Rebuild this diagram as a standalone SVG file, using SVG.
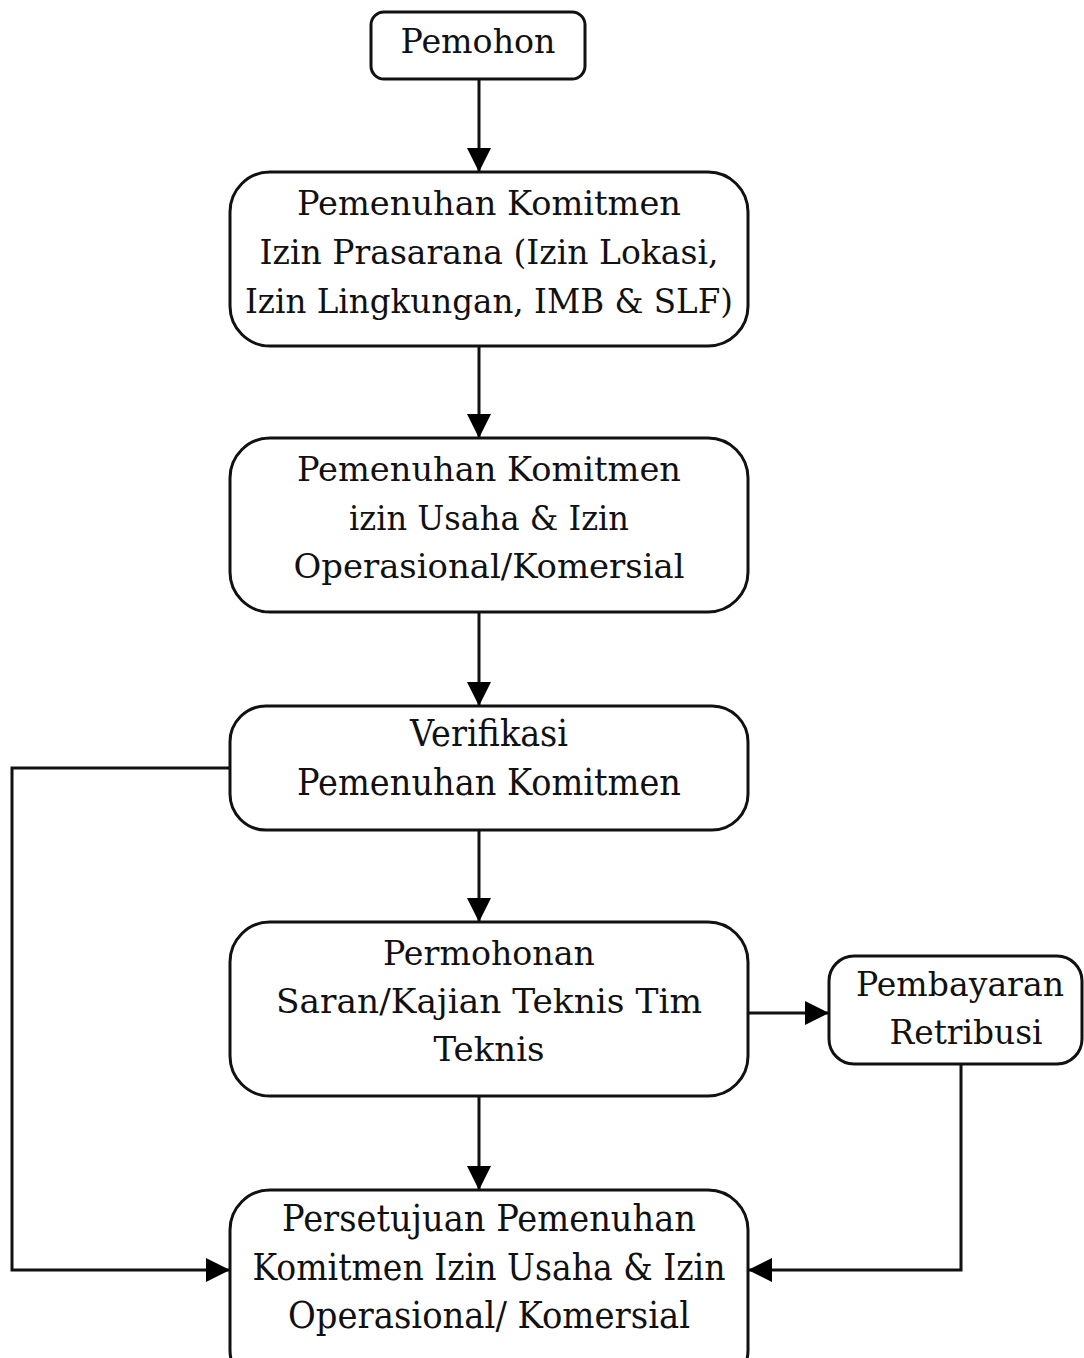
<svg xmlns="http://www.w3.org/2000/svg" width="1084" height="1358" viewBox="0 0 1084 1358">
  <defs>
    <marker id="arrow" viewBox="0 0 24 24" refX="24" refY="12" markerWidth="24" markerHeight="24" markerUnits="userSpaceOnUse" orient="auto">
      <path d="M0,0 L24,12 L0,24 Z" fill="#000"/>
    </marker>
    <style>
      .box { fill: #fff; stroke: #111; stroke-width: 3; }
      .lbl { font-family: "DejaVu Serif", "Liberation Serif", serif; font-size: 33px; fill: #111; text-anchor: middle; }
      .big { font-size: 37px; }
      .edge { fill: none; stroke: #111; stroke-width: 3; marker-end: url(#arrow); }
    </style>
  </defs>
  <rect width="1084" height="1358" fill="#fff"/>

  <g id="connectors">
    <path class="edge" d="M479,79 V172"/>
    <path class="edge" d="M479,346 V438"/>
    <path class="edge" d="M479,612 V706"/>
    <path class="edge" d="M479,830 V922"/>
    <path class="edge" d="M479,1096 V1190"/>
    <path class="edge" d="M230,768 H12 V1270 H230"/>
    <path class="edge" d="M748,1013 H829"/>
    <path class="edge" d="M961,1064 V1270 H748"/>
  </g>

  <g id="pemohon">
    <rect class="box" x="371" y="12" width="214" height="67" rx="13"/>
    <text class="lbl" x="478" y="53" font-size="38" textLength="155" lengthAdjust="spacingAndGlyphs">Pemohon</text>
  </g>

  <g id="izin-prasarana">
    <rect class="box" x="230" y="172" width="518" height="174" rx="40"/>
    <text class="lbl" x="489" y="215" textLength="384" lengthAdjust="spacingAndGlyphs">Pemenuhan Komitmen</text>
    <text class="lbl" x="489" y="264" textLength="459" lengthAdjust="spacingAndGlyphs">Izin Prasarana (Izin Lokasi,</text>
    <text class="lbl" x="489" y="313" textLength="488" lengthAdjust="spacingAndGlyphs">Izin Lingkungan, IMB &amp; SLF)</text>
  </g>

  <g id="izin-usaha">
    <rect class="box" x="230" y="438" width="518" height="174" rx="40"/>
    <text class="lbl" x="489" y="481" textLength="384" lengthAdjust="spacingAndGlyphs">Pemenuhan Komitmen</text>
    <text class="lbl" x="489" y="530" textLength="280" lengthAdjust="spacingAndGlyphs">izin Usaha &amp; Izin</text>
    <text class="lbl" x="489" y="578" textLength="391" lengthAdjust="spacingAndGlyphs">Operasional/Komersial</text>
  </g>

  <g id="verifikasi">
    <rect class="box" x="230" y="706" width="518" height="124" rx="36"/>
    <text class="lbl big" x="489" y="746" textLength="158" lengthAdjust="spacingAndGlyphs">Verifikasi</text>
    <text class="lbl big" x="489" y="795" textLength="384" lengthAdjust="spacingAndGlyphs">Pemenuhan Komitmen</text>
  </g>

  <g id="permohonan">
    <rect class="box" x="230" y="922" width="518" height="174" rx="40"/>
    <text class="lbl" x="489" y="965" textLength="212" lengthAdjust="spacingAndGlyphs">Permohonan</text>
    <text class="lbl" x="489" y="1013" textLength="426" lengthAdjust="spacingAndGlyphs">Saran/Kajian Teknis Tim</text>
    <text class="lbl" x="489" y="1061" textLength="111" lengthAdjust="spacingAndGlyphs">Teknis</text>
  </g>

  <g id="pembayaran">
    <rect class="box" x="829" y="956" width="253" height="108" rx="25"/>
    <text class="lbl" x="960" y="996" textLength="208" lengthAdjust="spacingAndGlyphs">Pembayaran</text>
    <text class="lbl" x="966" y="1044" textLength="153" lengthAdjust="spacingAndGlyphs">Retribusi</text>
  </g>

  <g id="persetujuan">
    <rect class="box" x="230" y="1190" width="518" height="200" rx="40"/>
    <text class="lbl big" x="489" y="1231" textLength="414" lengthAdjust="spacingAndGlyphs">Persetujuan Pemenuhan</text>
    <text class="lbl big" x="489" y="1280" textLength="473" lengthAdjust="spacingAndGlyphs">Komitmen Izin Usaha &amp; Izin</text>
    <text class="lbl big" x="489" y="1328" textLength="402" lengthAdjust="spacingAndGlyphs">Operasional/ Komersial</text>
  </g>
</svg>
